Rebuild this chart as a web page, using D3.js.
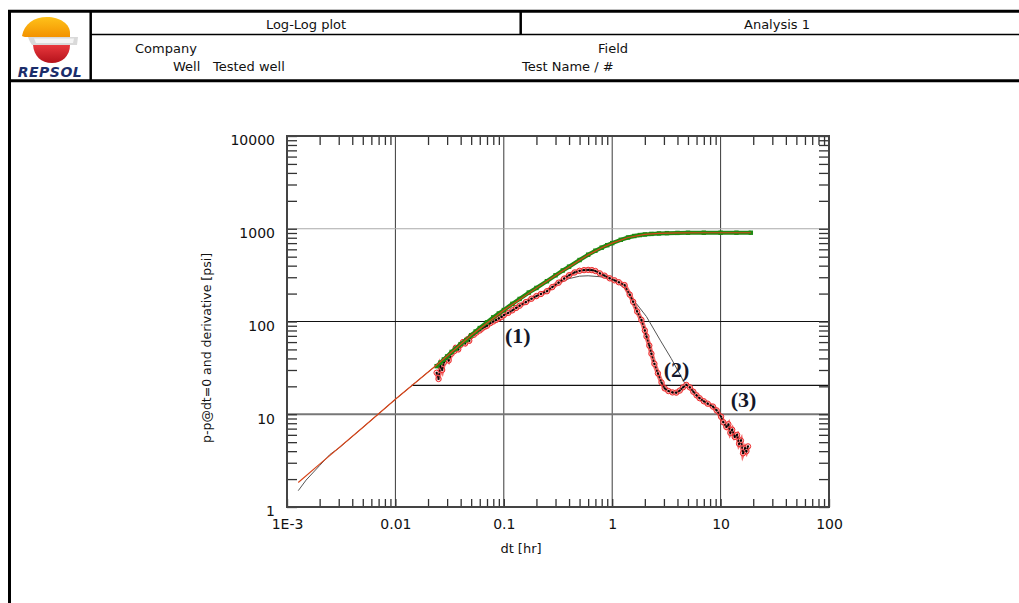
<!DOCTYPE html>
<html>
<head>
<meta charset="utf-8">
<script src="https://cdn.jsdelivr.net/npm/d3@7"></script>
<style>
  body { margin: 0; background: #fff; }
  svg { display: block; }
  text { font-family: "DejaVu Sans", Verdana, sans-serif; fill: #111; }
  .ann { font-family: "Liberation Serif", "Times New Roman", serif; font-weight: bold; fill: #14182a; }
</style>
</head>
<body>
<svg width="1019" height="603"></svg>
<script>
/*
 * Values
 */
var xTickValues = [1e-3, 0.01, 0.1, 1, 10, 100],
    xTickLabels = ["1E-3", "0.01", "0.1", "1", "10", "100"],
    yTickValues = [1, 10, 100, 1000, 10000],
    yTickLabels = ["1", "10", "100", "1000", "10000"];

// pressure change points (green)
var presT = [0.024, 0.026, 0.028, 0.03, 0.033, 0.036, 0.04, 0.045, 0.05, 0.055, 0.06, 0.07, 0.08, 0.09, 0.1,
             0.12, 0.14, 0.17, 0.2, 0.25, 0.3, 0.35, 0.4, 0.5, 0.6, 0.7, 0.8, 0.9, 1.0, 1.2, 1.4, 1.6, 1.8,
             2.0, 2.3, 2.7, 3.2, 4, 5, 7, 10, 14, 19];
var presV = [33, 36, 39, 42, 47, 51, 57, 63, 71, 78, 85, 98, 111, 122, 133,
             155, 175, 205, 230, 272, 315, 355, 390, 460, 525, 580, 625, 665, 700, 760, 805, 835, 855,
             868, 880, 890, 897, 902, 905, 906, 906, 906, 906];

// derivative points (black dots in red circles)
var derivT = [0.024, 0.025, 0.026, 0.027, 0.028, 0.03, 0.031, 0.033, 0.035, 0.036, 0.038, 0.04, 0.042, 0.044,
              0.046, 0.048, 0.05, 0.053, 0.056, 0.06, 0.063, 0.067, 0.07, 0.075, 0.08, 0.085, 0.09, 0.095,
              0.1, 0.11, 0.12, 0.13, 0.14, 0.16, 0.18, 0.2, 0.22, 0.25, 0.28, 0.32, 0.36, 0.4, 0.45, 0.5,
              0.55, 0.6, 0.65, 0.7, 0.77, 0.85, 0.95, 1.05, 1.15, 1.3, 1.45, 1.56, 1.7, 1.86, 2.0, 2.07,
              2.2, 2.3, 2.45, 2.64, 2.85, 3.05, 3.3, 3.6, 3.9, 4.2, 4.5, 4.83, 5.2, 5.6, 6.0, 6.4, 7.0,
              7.6, 8.5, 9.2, 10.1, 10.6, 11.3, 11.8, 12.3, 12.8, 13.5, 14.2, 14.8, 15.4, 16.1, 16.8, 17.3, 17.9];
var derivV = [28, 24, 33, 30, 36, 40, 38, 45, 48, 52, 50, 56, 60, 58,
              64, 62, 70, 72, 76, 80, 84, 88, 90, 96, 100, 104, 108, 112,
              117, 124, 132, 140, 148, 162, 176, 188, 198, 212, 235, 262, 290, 315, 338, 352,
              358, 360, 358, 350, 330, 312, 292, 278, 265, 247, 195, 163, 128, 104, 80, 69,
              55, 45, 35, 27.6, 22, 19, 17.8, 17.2, 17.1, 18, 19.5, 20.7, 19.5, 17.5, 16, 14.9, 13.8,
              13, 12.1, 11, 9.4, 8.2, 7.3, 7.8, 6.3, 6.8, 5.7, 6.0, 4.8, 5.2, 3.8, 4.3, 4.0, 4.5];

// model curves (thin lines)
var modelPT = [0.00127, 0.002, 0.005, 0.01, 0.024, 0.05, 0.1, 0.2, 0.3, 0.4, 0.5, 0.6, 0.8, 1.0, 1.4,
               2.0, 2.7, 4, 7, 19];
var modelPV = [1.84, 2.9, 7.2, 14.5, 34, 71, 132, 229, 314, 388, 458, 523, 624, 700, 805,
               868, 890, 902, 906, 906];
var modelDT = [0.00127, 0.0015, 0.002, 0.0025, 0.003, 0.005, 0.01, 0.02, 0.05, 0.1, 0.2, 0.3, 0.4, 0.5,
               0.6, 0.77, 1.0, 1.3, 1.67, 2.07, 2.77, 3.5, 4.67, 5.2, 6.4, 8.5, 10, 12, 14, 16, 18];
var modelDV = [1.5, 1.95, 2.8, 3.7, 4.3, 7.2, 14.5, 28.5, 68, 117, 190, 250, 290, 308,
               311, 304, 287, 228, 156, 113, 63, 40, 21.6, 19.4, 15, 12, 9.6, 7.2, 5.8, 4.6, 4.0];

// partial horizontal line and the flow regime labels
var hLineT = [0.0141, 100], hLineV = 20.5;
var annText = ["(1)", "(2)", "(3)"],
    annT = [0.1345, 3.93, 16.3],
    annV = [58.7, 25.2, 12.0];

/*
 * Page geometry
 */
var svg = d3.select("svg"),
    pL = 287, pR = 829, pT = 136, pB = 507;

var x = d3.scaleLog().domain([1e-3, 100]).range([pL, pR]),
    y = d3.scaleLog().domain([1, 10000]).range([pB, pT]);

function minors(lo, hi) {
  var out = [];
  for (var e = lo; e < hi; e++)
    for (var k = 2; k <= 9; k++) out.push(k * Math.pow(10, e));
  return out;
}

/*
 * Header frame
 */
var hdr = svg.append("g");
function hl(x1, y1, x2, y2, w) {
  hdr.append("line").attr("x1", x1).attr("y1", y1).attr("x2", x2).attr("y2", y2)
    .attr("stroke", "#000").attr("stroke-width", w);
}
hl(9.5, 10, 9.5, 603, 3);
hl(8, 11.3, 1019, 11.3, 3);
hl(8, 80.7, 1019, 80.7, 3);
hl(90.7, 10, 90.7, 81, 2.5);
hl(91, 34.5, 1019, 34.5, 1.5);
hl(520.7, 10, 520.7, 34.5, 2.5);

hdr.append("text").attr("x", 306).attr("y", 29).attr("text-anchor", "middle").style("font-size", "13px").text("Log-Log plot");
hdr.append("text").attr("x", 777).attr("y", 29).attr("text-anchor", "middle").style("font-size", "13px").text("Analysis 1");
hdr.append("text").attr("x", 135).attr("y", 53).style("font-size", "13px").text("Company");
hdr.append("text").attr("x", 173).attr("y", 71).style("font-size", "13px").text("Well");
hdr.append("text").attr("x", 213).attr("y", 71).style("font-size", "13px").text("Tested well");
hdr.append("text").attr("x", 628).attr("y", 53).attr("text-anchor", "end").style("font-size", "13px").text("Field");
hdr.append("text").attr("x", 522).attr("y", 71).style("font-size", "13px").text("Test Name / #");

/*
 * Repsol logo, rough shapes
 */
var defs = svg.append("defs");
var gO = defs.append("linearGradient").attr("id", "gOr").attr("x1", 0).attr("y1", 0).attr("x2", 0).attr("y2", 1);
gO.append("stop").attr("offset", "0%").attr("stop-color", "#ffc21a");
gO.append("stop").attr("offset", "100%").attr("stop-color", "#f39200");
var gR = defs.append("linearGradient").attr("id", "gRd").attr("x1", 0).attr("y1", 0).attr("x2", 0).attr("y2", 1);
gR.append("stop").attr("offset", "0%").attr("stop-color", "#e8383d");
gR.append("stop").attr("offset", "100%").attr("stop-color", "#b5121b");

var logo = svg.append("g");
logo.append("path").attr("d", "M22,36 C24,24 34,17 47,17 C60,17 70,24 70,33 L70,37 L30,37 C26,37 23,37 22,36 Z")
  .attr("fill", "url(#gOr)");
logo.append("path").attr("d", "M28,37 L78,37 L77,45 L32,45 C30,42 29,40 28,37 Z").attr("fill", "#d9d9d9");
logo.append("path").attr("d", "M34,38.5 L74,38.5 L73,43 L36,43 Z").attr("fill", "#f4f4f4");
logo.append("path").attr("d", "M33,45 L70,45 C70,56 62,63 52,63 C41,63 34,56 33,45 Z").attr("fill", "url(#gRd)");
logo.append("text").attr("x", 50).attr("y", 77).attr("text-anchor", "middle")
  .style("font-size", "14px").style("font-weight", "bold").style("font-style", "italic")
  .style("fill", "#1b2d6b").style("letter-spacing", "0.5px").text("REPSOL");

/*
 * Plot: grid first
 */
defs.append("clipPath").attr("id", "clip").append("rect")
  .attr("x", pL).attr("y", pT).attr("width", pR - pL).attr("height", pB - pT);

var grid = svg.append("g");
grid.selectAll("line.v").data([0.01, 0.1, 1, 10]).enter().append("line")
  .attr("x1", function(d) { return x(d); }).attr("x2", function(d) { return x(d); })
  .attr("y1", pT).attr("y2", pB).attr("stroke", "#3a3a3a").attr("stroke-width", 1);
var hGrid = [[10, "#777", 2], [100, "#111", 1.2], [1000, "#aaa", 1.2]];
grid.selectAll("line.h").data(hGrid).enter().append("line")
  .attr("x1", pL).attr("x2", pR)
  .attr("y1", function(d) { return y(d[0]); }).attr("y2", function(d) { return y(d[0]); })
  .attr("stroke", function(d) { return d[1]; }).attr("stroke-width", function(d) { return d[2]; });
grid.append("line")
  .attr("x1", x(hLineT[0])).attr("x2", x(hLineT[1]))
  .attr("y1", y(hLineV)).attr("y2", y(hLineV)).attr("stroke", "#111").attr("stroke-width", 1.2);

/*
 * Curves
 */
var plot = svg.append("g").attr("clip-path", "url(#clip)");
var line = d3.line().x(function(d) { return x(d[0]); }).y(function(d) { return y(d[1]); });
function zip(a, b) { return a.map(function(v, i) { return [v, b[i]]; }); }

var modelD = zip(modelDT, modelDV),
    modelP = zip(modelPT, modelPV),
    deriv = zip(derivT, derivV),
    pres = zip(presT, presV);

plot.append("path").datum(modelD).attr("d", line)
  .attr("fill", "none").attr("stroke", "#555").attr("stroke-width", 1);

// derivative points
plot.append("path").datum(deriv).attr("d", line)
  .attr("fill", "none").attr("stroke", "#f03030").attr("stroke-width", 4.5).attr("stroke-opacity", 0.7);
plot.selectAll("circle.dc").data(deriv).enter().append("circle")
  .attr("cx", function(d) { return x(d[0]); }).attr("cy", function(d) { return y(d[1]); })
  .attr("r", 2.7).attr("fill", "#fbcaca").attr("fill-opacity", 0.6).attr("stroke", "#ee2a2a").attr("stroke-width", 1);
plot.append("path").datum(deriv).attr("d", line)
  .attr("fill", "none").attr("stroke", "#111").attr("stroke-width", 1.6).attr("stroke-dasharray", "2,1.5");
plot.selectAll("circle.dd").data(deriv).enter().append("circle")
  .attr("cx", function(d) { return x(d[0]); }).attr("cy", function(d) { return y(d[1]); })
  .attr("r", 1.1).attr("fill", "#000");

// pressure points
plot.append("path").datum(pres).attr("d", line)
  .attr("fill", "none").attr("stroke", "#1f8a12").attr("stroke-width", 4);
plot.selectAll("rect.pp").data(pres).enter().append("rect")
  .attr("x", function(d) { return x(d[0]) - 2.2; }).attr("y", function(d) { return y(d[1]) - 2.2; })
  .attr("width", 4.4).attr("height", 4.4).attr("fill", "#1f8a12");

plot.append("path").datum(modelP).attr("d", line)
  .attr("fill", "none").attr("stroke", "#d8461a").attr("stroke-width", 1.2);

/*
 * Axes: inward ticks on all four sides
 */
var axG = svg.append("g").style("font-size", "14px");
var xMinor = minors(-3, 2), yMinor = minors(0, 4);

var bAx = axG.append("g").attr("transform", "translate(0," + pB + ")")
  .call(d3.axisBottom(x).tickValues(xTickValues).tickSize(-8).tickPadding(12)
    .tickFormat(function(d, i) { return xTickLabels[i]; }));
axG.append("g").attr("transform", "translate(0," + pB + ")")
  .call(d3.axisBottom(x).tickValues(xMinor).tickSize(-8).tickFormat(""));
axG.append("g").attr("transform", "translate(0," + pT + ")")
  .call(d3.axisTop(x).tickValues(xMinor).tickSize(-9).tickFormat(""));

var lAx = axG.append("g").attr("transform", "translate(" + pL + ",0)")
  .call(d3.axisLeft(y).tickValues(yTickValues).tickSize(-10).tickPadding(12)
    .tickFormat(function(d, i) { return yTickLabels[i]; }));
axG.append("g").attr("transform", "translate(" + pL + ",0)")
  .call(d3.axisLeft(y).tickValues(yMinor).tickSize(-10).tickFormat(""));
axG.append("g").attr("transform", "translate(" + pR + ",0)")
  .call(d3.axisRight(y).tickValues(yMinor.concat(yTickValues)).tickSize(-10).tickFormat(""));

axG.selectAll(".domain").remove();
axG.selectAll(".tick line").attr("stroke", "#333").attr("stroke-width", 1.3);
lAx.selectAll("text").attr("dy", "0.64em").style("font-size", "14px");
bAx.selectAll("text").style("font-size", "14px");

svg.append("rect").attr("x", pL).attr("y", pT).attr("width", pR - pL).attr("height", pB - pT)
  .attr("fill", "none").attr("stroke", "#444").attr("stroke-width", 2);

/*
 * Axis titles and the regime labels
 */
svg.append("text").attr("x", 521).attr("y", 553).attr("text-anchor", "middle")
  .style("font-size", "13px").text("dt [hr]");
svg.append("text").attr("transform", "translate(211,348) rotate(-90)").attr("text-anchor", "middle")
  .style("font-size", "12.5px").text("p-p@dt=0 and derivative [psi]");

svg.selectAll("text.ann").data(annText).enter().append("text").attr("class", "ann")
  .attr("x", function(d, i) { return x(annT[i]); }).attr("y", function(d, i) { return y(annV[i]); })
  .attr("text-anchor", "middle").style("font-size", "22px").text(function(d) { return d; });
</script>
</body>
</html>
